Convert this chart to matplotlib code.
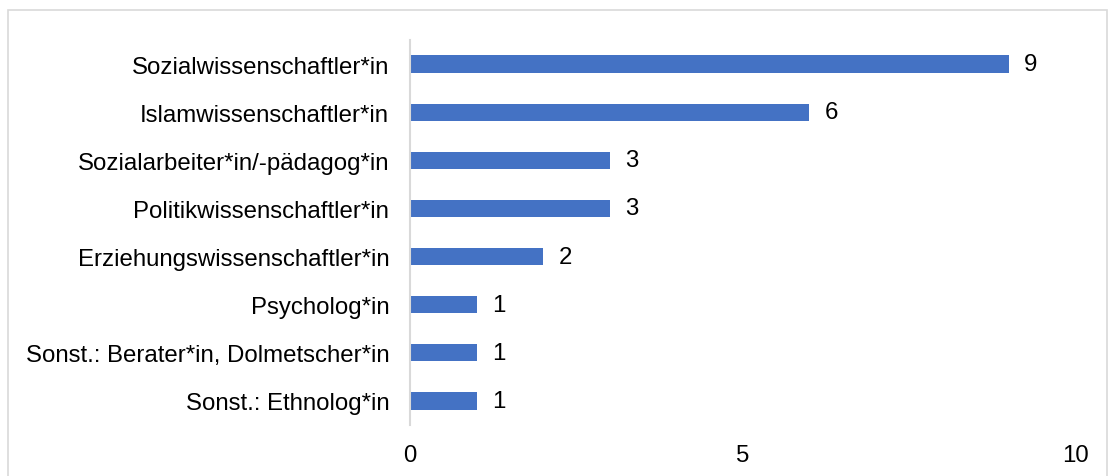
import matplotlib
matplotlib.use("Agg")
import matplotlib.pyplot as plt
from matplotlib.patches import Rectangle

categories = [
    "Sozialwissenschaftler*in",
    "Islamwissenschaftler*in",
    "Sozialarbeiter*in/-pädagog*in",
    "Politikwissenschaftler*in",
    "Erziehungswissenschaftler*in",
    "Psycholog*in",
    "Sonst.: Berater*in, Dolmetscher*in",
    "Sonst.: Ethnolog*in",
]
counts = [9, 6, 3, 3, 2, 1, 1, 1]
x_ticks = [0, 5, 10]

plt.rcParams["font.family"] = ["Liberation Sans", "DejaVu Sans"]
FS = 17.3

W, H = 1109, 477
fig = plt.figure(figsize=(W / 100, H / 100), dpi=100)
ax = fig.add_axes([410 / W, 1 - 426 / H, (1075 - 410) / W, (426 - 41) / H])

# outer chart frame (only top, left and right edges fall inside the image)
fig.patches.append(Rectangle((8 / W, -0.1), (1107 - 8) / W, 1.1 - 11 / H,
                             transform=fig.transFigure, fill=False,
                             edgecolor="#d9d9d9", linewidth=1.2))

y = list(range(len(categories)))[::-1]
bars = ax.barh(y, counts, height=0.36, color="#4472C4")
for rect, v in zip(bars, counts):
    ax.text(rect.get_width() + 0.23, rect.get_y() + rect.get_height() / 2,
            f"{v}", va="center", ha="left", fontsize=FS, color="#000000")

ax.set_xlim(0, 10)
ax.set_ylim(-0.5, len(categories) - 0.5)
ax.set_yticks(y)
ax.set_yticklabels(categories, fontsize=FS)
ax.set_xticks(x_ticks)
ax.set_xticklabels([str(t) for t in x_ticks], fontsize=FS)
ax.tick_params(axis="both", length=0)
ax.tick_params(axis="y", pad=15)
ax.tick_params(axis="x", pad=14)

for side in ["top", "right", "bottom"]:
    ax.spines[side].set_visible(False)
ax.spines["left"].set_color("#d9d9d9")
ax.spines["left"].set_linewidth(1.5)

fig.savefig("out.png", dpi=100)
